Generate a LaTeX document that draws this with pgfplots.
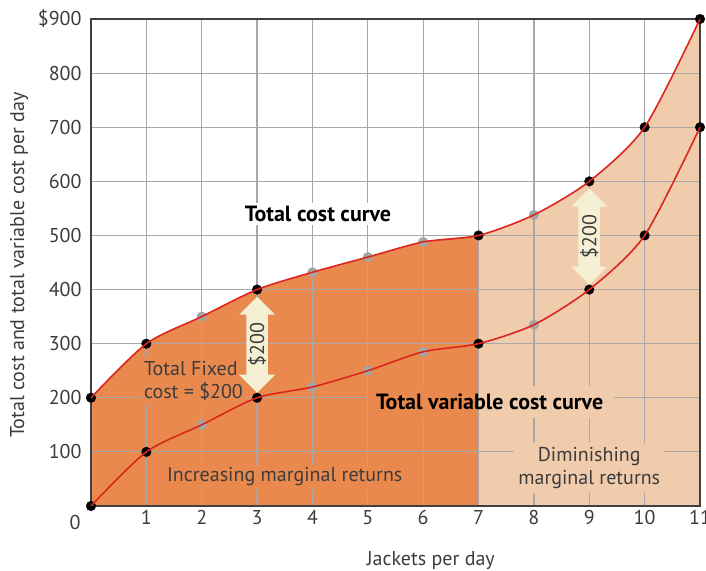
\documentclass[border=0pt]{standalone}
\usepackage{pgfplots}
\usepackage{pgfplotstable}
\pgfplotsset{compat=1.18}
\usepackage{fontspec}
\setmainfont{PT Sans}
\usetikzlibrary{shapes.arrows}
\definecolor{darkor}{RGB}{234,137,78}
\definecolor{peach}{RGB}{240,203,172}
\definecolor{cream}{RGB}{245,239,212}
\definecolor{curvered}{RGB}{218,38,30}
\definecolor{gridgray}{RGB}{168,168,168}
\definecolor{txtgray}{RGB}{60,60,60}
\definecolor{dotgray}{RGB}{165,165,165}

\pgfplotstableread{
x tc tvc
0 200 0
1 300 100
2 350 150
3 400 200
4 432 220
5 460 250
6 488 285
7 500 300
8 538 335
9 600 400
10 700 500
11 900 700
}\costdata

\pgfplotstableread{
x tc
0 200
1 300
2 350
3 400
4 432
5 460
6 488
7 500
}\costleft

\begin{document}
\begin{tikzpicture}[font=\fontsize{20bp}{23bp}\selectfont]
\begin{axis}[
  set layers,
  scale only axis, width=609bp, height=487bp,
  xmin=0, xmax=11, ymin=0, ymax=900,
  xtick={1,...,11},
  ytick={100,200,...,900},
  yticklabels={100,200,300,400,500,600,700,800,\$900},
  major tick length=0pt,
  xmajorgrids=true, ymajorgrids=true,
  major grid style={draw=gridgray, line width=1.2pt},
  axis line style={draw=black!75, line width=1.3pt},
  tick label style={text=txtgray},
  /pgf/number format/assume math mode=true,
  yticklabel style={xshift=-6bp},
  xticklabel style={yshift=-1bp},
  xlabel={Jackets per day},
  ylabel={Total cost and total variable cost per day},
  xlabel style={at={(axis description cs:0.558,-0.111)}, anchor=center, text=txtgray},
  ylabel style={at={(axis description cs:-0.118,0.495)}, anchor=center, text=txtgray},
  clip=false,
]
% fills (below the grid)
\addplot[fill=peach, draw=none, smooth, on layer=axis background] table[x=x, y=tc]{\costdata} \closedcycle;
\addplot[fill=darkor, draw=none, smooth, on layer=axis background] table[x=x, y=tc]{\costleft} \closedcycle;
% curves
\addplot[curvered, line width=1.6pt, smooth, tension=0.45, on layer=axis foreground] table[x=x, y=tc]{\costdata};
\addplot[curvered, line width=1.6pt, smooth, tension=0.45, on layer=axis foreground] table[x=x, y=tvc]{\costdata};
% marks
\addplot[only marks, mark=*, mark size=4.8bp, black, on layer=axis foreground]
  coordinates {(0,200) (1,300) (3,400) (7,500) (9,600) (10,700) (11,900)
               (0,0) (1,100) (3,200) (7,300) (9,400) (10,500) (11,700)};
\addplot[only marks, mark=*, mark size=4.8bp, dotgray, on layer=axis foreground]
  coordinates {(2,350) (4,432) (5,460) (6,488) (8,538)
               (2,150) (4,220) (5,250) (6,285) (8,335)};
\begin{pgfonlayer}{axis descriptions}
  \node[fill=white, inner sep=3bp, font=\fontsize{22bp}{25bp}\selectfont\bfseries] at (axis cs:4.1,540) {Total cost curve};
  \node[fill=darkor, anchor=east, minimum height=32bp, minimum width=110bp, inner sep=0pt] at (axis cs:7,192) {};
  \node[fill=peach, anchor=west, minimum height=32bp, minimum width=135bp, inner sep=0pt] at (axis cs:7,192) {};
  \node[inner sep=0pt, font=\fontsize{22bp}{25bp}\selectfont\bfseries] at (axis cs:7.2,192) {Total variable cost curve};
  \node[fill=darkor, anchor=west, align=left, text=txtgray, inner sep=3bp] at (axis cs:0.9,231) {Total Fixed\\cost = \$200};
  \node[fill=darkor, text=txtgray, inner sep=3bp] at (axis cs:3.5,54) {Increasing marginal returns};
  \node[fill=peach, text=txtgray, align=center, inner sep=4bp] at (axis cs:9.0,70) {Diminishing\\marginal returns};
  \node[double arrow, fill=cream, draw=none, rotate=90, minimum height=96bp, minimum width=36bp, inner sep=1.5bp, text=txtgray] at (axis cs:3,298) {\$200};
  \node[double arrow, fill=cream, draw=none, rotate=90, minimum height=96bp, minimum width=36bp, inner sep=1.5bp, text=txtgray] at (axis cs:9,498) {\$200};
  \node[text=txtgray] at ([xshift=-16bp, yshift=-16bp]axis cs:0,0) {0};
\end{pgfonlayer}
\end{axis}
\pgfresetboundingbox
\path (-91bp,-65bp) rectangle (615bp,506bp);
\end{tikzpicture}
\end{document}
